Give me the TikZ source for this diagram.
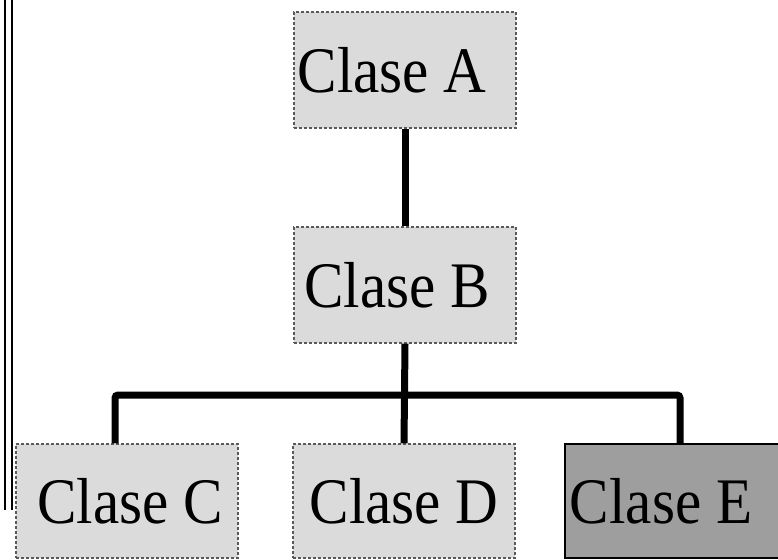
\documentclass[tikz,border=0pt]{standalone}
\usepackage{fontspec}
\setmainfont{Liberation Serif}
\newfontfamily\clasefont{Liberation Serif}[FakeStretch=0.91]

\definecolor{boxfill}{gray}{0.86}
\definecolor{boxdark}{gray}{0.62}
\tikzset{
	clase/.style={draw=black!65, densely dashed, line width=1.3pt, fill=boxfill,
		minimum width=222pt, minimum height=116pt, inner sep=0pt,
		font=\clasefont\fontsize{65}{65}\selectfont},
	link/.style={line width=7pt}
}

\begin{document}
\begin{tikzpicture}[x=1pt,y=-1pt]
	\useasboundingbox (0,0) rectangle (778,559);

	\draw[line width=1.6pt] (5,0) -- (5,510);
	\draw[line width=1.6pt] (12,0) -- (12,510);

	\node[clase, text depth=0pt] (A) at (405,70) {\hspace*{-26pt}Clase A};
	\node[clase] (B) at (405,285) {\hspace*{-16pt}Clase B};
	\node[clase, minimum height=114pt] (C) at (127,501) {\hspace*{6pt}Clase C};
	\node[clase, minimum height=114pt] (D) at (404,501) {Clase D};
	\node[clase, minimum height=114pt, fill=boxdark, draw=black, solid] (E) at (676,501) {\hspace*{-30pt}Clase E};

	\coordinate (jC) at (115,395);
	\coordinate (jE) at (680,395);

	\draw[link] (A.south) -- (B.north);
	\draw[link] (B.south) -- (D.north);
	\draw[link, rounded corners=3pt] (C.north -| jC) -- (jC) -- (jE) -- (E.north -| jE);
\end{tikzpicture}
\end{document}
